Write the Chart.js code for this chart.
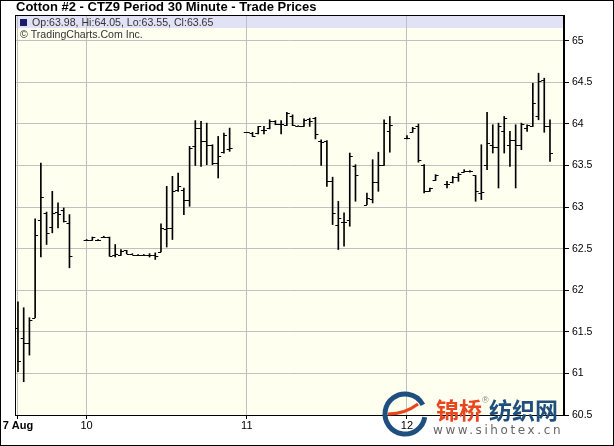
<!DOCTYPE html>
<html>
<head>
<meta charset="utf-8">
<script src="https://cdn.jsdelivr.net/npm/chart.js@4.4.0/dist/chart.umd.min.js"></script>
<style>
html, body { margin: 0; padding: 0; background: #fff; }
#wrap { width: 614px; height: 446px; position: relative; }
</style>
</head>
<body>
<div id="wrap"><canvas id="cotton"></canvas></div>
<script>
// one entry per 30 minute slot, null = no bar in that slot
const dayLabels = ['7 Aug', '10', '11', '12'];
const dayFirstSlot = [0, 12, 40, 68];
const yTicks = [60.5, 61, 61.5, 62, 62.5, 63, 63.5, 64, 64.5, 65];

const opens = [
	61.55, 61.43, 61.37, 61.67, 62.85, 62.93, 62.76, 62.94, 62.97, 62.81,
	null, null,
	62.60, 62.60, 62.60, 62.64, 62.64, 62.42, 62.42, 62.48, 62.44, 62.42, 62.42, 62.42, 62.42, 62.46,
	62.74, 62.75, 63.21, 63.21, 63.09, 63.73, 63.95, 63.80, 63.75, 63.53, 63.66, 63.70,
	null, null,
	63.90, 63.89, 63.89, 63.93, 63.95, 64.04, 64.00, 63.99, 64.10, 63.98, 63.98, 64.06, 64.07, 63.79,
	63.79, 63.31, 62.79, 62.82, 62.85, 63.50, null, 63.03, 63.10, 63.30, 63.51, 63.91,
	null, null,
	63.83, 63.90, 63.97, 63.51, 63.19, 63.32, null, 63.28, 63.30, 63.36, 63.42, 63.44, 63.38, 63.17,
	63.51, 63.75, 63.72, 63.91, 63.75, 63.81, 63.75, 63.95, 63.98, 64.09, 64.53, 63.98,
];
const highs = [
	61.86, 61.79, 61.67, 62.86, 63.53, 62.94, 63.19, 63.05, 62.99, 62.91,
	null, null,
	62.61, 62.64, 62.61, 62.65, 62.64, 62.55, 62.49, 62.48, 62.44, 62.43, 62.43, 62.44, 62.45, 62.80,
	63.25, 63.37, 63.41, 63.23, 63.73, 64.04, 64.03, 64.01, 63.75, 63.85, 63.89, 63.95,
	null, null,
	63.90, 63.90, 63.97, 63.97, 64.05, 64.04, 64.04, 64.14, 64.11, 63.98, 64.06, 64.07, 64.08, 63.81,
	63.80, 63.36, 63.07, 62.93, 63.65, 63.51, null, 63.17, 63.57, 63.66, 64.05, 64.09,
	null, null,
	63.86, 63.96, 64.00, 63.51, 63.23, 63.39, null, 63.31, 63.37, 63.41, 63.45, 63.44, 63.38, 63.75,
	64.14, 63.99, 64.01, 64.09, 63.91, 63.99, 64.01, 63.99, 64.49, 64.61, 64.55, 64.05,
];
const lows = [
	61.02, 60.90, 61.22, 61.67, 62.40, 62.55, 62.69, 62.75, 62.82, 62.27,
	null, null,
	62.60, 62.60, 62.60, 62.64, 62.41, 62.40, 62.42, 62.44, 62.43, 62.42, 62.42, 62.40, 62.37, 62.46,
	62.52, 62.61, 63.19, 62.91, 63.01, 63.50, 63.49, 63.51, 63.51, 63.35, 63.65, 63.67,
	null, null,
	63.90, 63.85, 63.88, 63.88, 63.94, 63.99, 63.88, 63.98, 63.98, 63.98, 63.97, 63.97, 63.82, 63.50,
	63.25, 62.79, 62.49, 62.53, 62.77, 63.07, null, 63.03, 63.05, 63.19, 63.50, 63.66,
	null, null,
	63.82, 63.90, 63.54, 63.17, 63.19, 63.32, null, 63.23, 63.29, 63.31, 63.42, 63.42, 63.07, 63.09,
	63.45, 63.65, 63.23, 63.65, 63.49, 63.23, 63.69, 63.91, 63.97, 64.05, 63.90, 63.55,
];
const closes = [
	61.15, 61.37, 61.64, 62.67, 63.12, 62.69, 62.93, 62.92, 62.83, 62.41,
	null, null,
	62.60, 62.64, 62.60, 62.64, 62.41, 62.44, 62.47, 62.44, 62.43, 62.42, 62.42, 62.42, 62.41, 62.75,
	62.75, 63.19, 63.25, 63.09, 63.71, 63.95, 63.79, 63.75, 63.53, 63.62, 63.87, 63.71,
	null, null,
	63.90, 63.86, 63.97, 63.93, 64.04, 64.00, 64.00, 64.13, 63.99, 63.98, 64.05, 64.03, 63.88, 63.78,
	63.31, 62.93, 62.87, 62.82, 63.62, 63.39, null, 63.11, 63.30, 63.51, 64.01, 63.99,
	null, null,
	63.83, 63.95, 63.57, 63.19, 63.23, 63.38, null, 63.28, 63.36, 63.40, 63.44, 63.43, 63.19, 63.18,
	63.77, 63.72, 63.98, 64.07, 63.81, 63.75, 64.00, 63.99, 64.25, 64.52, 63.98, 63.65,
];

const last = closes.length - 1;
const font = 'Arial, "Liberation Sans", sans-serif';

const ranges = [];
highs.forEach((h, i) => {
	if (h !== null) ranges.push({ x: i, y: [lows[i], h] });
});

// paper, header band, open/close ticks, frame and watermark
const extras = {
	id: 'extras',
	beforeDraw(chart) {
		const { ctx, chartArea: a } = chart;
		ctx.save();
		ctx.fillStyle = '#fff';
		ctx.fillRect(0, 0, chart.width, chart.height);
		ctx.fillStyle = '#fffff0';
		ctx.fillRect(a.left, a.top, a.right - a.left, a.bottom - a.top);
		ctx.fillStyle = '#e2e2f6';
		ctx.fillRect(a.left + 1, a.top + 1, a.right - a.left - 2, 12);
		ctx.restore();
	},
	afterDatasetsDraw(chart) {
		const { ctx, scales: { x, y } } = chart;
		ctx.save();
		ctx.strokeStyle = '#000';
		ctx.lineWidth = 1;
		ctx.beginPath();
		opens.forEach((o, i) => {
			if (o === null) return;
			const px = x.getPixelForValue(i);
			const yo = Math.round(y.getPixelForValue(o)) + 0.5;
			const yc = Math.round(y.getPixelForValue(closes[i])) + 0.5;
			ctx.moveTo(px - 3, yo);
			ctx.lineTo(px, yo);
			ctx.moveTo(px, yc);
			ctx.lineTo(px + 3, yc);
		});
		ctx.stroke();
		ctx.restore();
	},
	afterDraw(chart) {
		const { ctx, chartArea: a } = chart;
		ctx.save();
		ctx.strokeStyle = '#000';
		ctx.lineWidth = 1;
		ctx.strokeRect(0.5, 0.5, chart.width - 1, chart.height - 1);
		ctx.strokeRect(a.left + 0.5, a.top + 0.5, a.right - a.left - 1, a.bottom - a.top);

		ctx.textBaseline = 'middle';
		ctx.fillStyle = '#000';
		ctx.font = 'bold 13px ' + font;
		ctx.fillText('Cotton #2 - CTZ9 Period 30 Minute - Trade Prices', 16, 7.5);

		ctx.fillStyle = '#1c1c6a';
		ctx.fillRect(a.left + 5, a.top + 4, 7, 7);
		ctx.font = '10.6px ' + font;
		ctx.fillStyle = '#333';
		ctx.fillText('Op:' + opens[last].toFixed(2) + ', Hi:' + highs[last].toFixed(2) +
			', Lo:' + lows[last].toFixed(2) + ', Cl:' + closes[last].toFixed(2), a.left + 17, a.top + 8);
		ctx.fillText('\u00A9 TradingCharts.Com Inc.', a.left + 5, a.top + 20);

		// sihotex watermark
		ctx.lineWidth = 5;
		ctx.strokeStyle = '#1f4f7e';
		ctx.beginPath();
		ctx.arc(405, 414, 20, Math.PI * 0.05, Math.PI * 1.85);
		ctx.stroke();
		ctx.strokeStyle = '#e8461f';
		ctx.lineWidth = 3;
		ctx.beginPath();
		ctx.moveTo(388, 414);
		ctx.quadraticCurveTo(405, 414, 418, 404);
		ctx.stroke();
		ctx.textBaseline = 'alphabetic';
		ctx.font = 'bold 23px "Noto Sans CJK SC"';
		ctx.fillStyle = '#e8461f';
		ctx.fillText('锦桥', 436, 419);
		ctx.fillStyle = '#1f4f7e';
		ctx.fillText('纺织网', 489, 419);
		ctx.font = '9px ' + font;
		ctx.fillStyle = '#888';
		ctx.fillText('\u00AE', 482, 403);
		ctx.font = '12px "DejaVu Sans"';
		ctx.fillStyle = '#666';
		ctx.letterSpacing = '2.6px';
		ctx.fillText('www.sihotex.cn', 433, 434);
		ctx.restore();
	},
};

new Chart(document.getElementById('cotton'), {
	type: 'bar',
	data: {
		datasets: [
			{
				label: 'High-Low',
				data: ranges,
				backgroundColor: '#000',
				barThickness: 1,
				grouped: false,
			},
		],
	},
	options: {
		responsive: true,
		maintainAspectRatio: false,
		animation: false,
		devicePixelRatio: 1,
		layout: { padding: { left: 15, top: 15, right: 0, bottom: 0 } },
		plugins: { legend: { display: false }, tooltip: { enabled: false } },
		scales: {
			x: {
				type: 'linear',
				min: -0.52,
				max: 95.45,
				offset: false,
				afterBuildTicks: (s) => { s.ticks = dayFirstSlot.map((v) => ({ value: v })); },
				afterFit: (s) => { s.height = 31; },
				grid: { color: '#c0c0c0', tickColor: '#000', tickLength: 4, offset: false },
				border: { color: '#000' },
				ticks: {
					color: '#000',
					padding: 0,
					maxRotation: 0,
					autoSkip: false,
					font: (c) => ({ family: font, size: 11, weight: c.index === 0 ? 'bold' : 'normal' }),
					callback: (v, i) => dayLabels[i],
				},
			},
			y: {
				position: 'right',
				min: 60.5,
				max: 65.31,
				afterBuildTicks: (s) => { s.ticks = yTicks.map((v) => ({ value: v })); },
				afterFit: (s) => { s.width = 50; },
				grid: { color: '#c0c0c0', tickColor: '#000', tickLength: 5 },
				border: { color: '#000' },
				ticks: {
					color: '#000',
					padding: 3,
					font: { family: font, size: 10.5 },
					callback: (v) => String(v),
				},
			},
		},
	},
	plugins: [extras],
});
</script>
</body>
</html>
